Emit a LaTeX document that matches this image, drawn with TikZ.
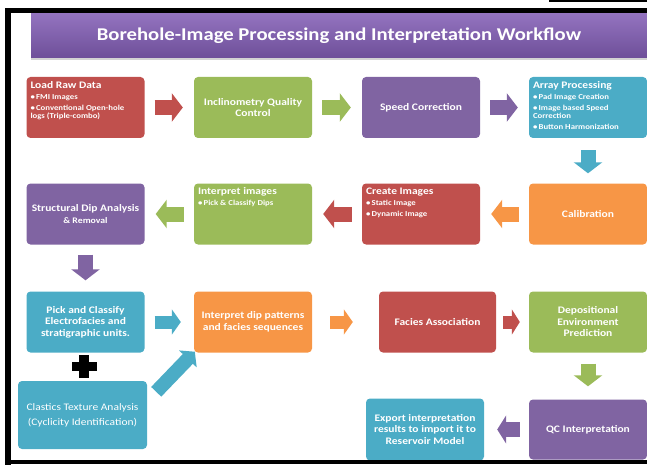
\documentclass[tikz,border=0pt]{standalone}
\usepackage{fontspec}
\setmainfont[FakeStretch=1.15]{Carlito}
\usetikzlibrary{arrows.meta,shadows}

\definecolor{boxred}{HTML}{C0504D}
\definecolor{boxgreen}{HTML}{9BBB59}
\definecolor{boxpurple}{HTML}{8064A2}
\definecolor{boxteal}{HTML}{4BACC6}
\definecolor{boxorange}{HTML}{F79646}
\definecolor{bannertop}{HTML}{9373BF}
\definecolor{bannerbot}{HTML}{6E4F99}

\newcommand{\headed}[2]{%
  \begin{minipage}[t][53pt][t]{110pt}\raggedright
    {\fontsize{10}{11}\selectfont #1}\par\vspace{3pt}
    \fontsize{7.6}{8.4}\selectfont #2
  \end{minipage}}
\newcommand{\bul}[1]{\hangindent=5pt\hangafter=1 \textbullet\,#1\par\vspace{2.5pt}}

\tikzset{
  stage/.style={rounded corners=4pt, text=white, font=\bfseries\fontsize{10}{11.5}\selectfont,
    align=center, inner sep=4pt, minimum width=118pt, minimum height=61pt},
  flow/.style={line width=15pt, -{Triangle[length=11pt,width=28pt]},
    shorten <=10pt, shorten >=11pt},
  smallflow/.style={line width=13pt, -{Triangle[length=9pt,width=25pt]}}
}

\begin{document}
\begin{tikzpicture}[x=1pt, y=-1pt]
    \useasboundingbox (0,0) rectangle (647,465);

    \node[top color=bannertop, bottom color=bannerbot, minimum width=616pt, minimum height=44pt,
          text=white, font=\bfseries\fontsize{18}{20}\selectfont,
          drop shadow={shadow xshift=0pt, shadow yshift=-2pt, opacity=0.35}] (title) at (339,36)
          {Borehole-Image Processing and Interpretation Workflow};

    \node[stage, fill=boxred] (load) at (85.5,107.5)
        {\headed{Load Raw Data}{\bul{FMI Images}\bul{Conventional Open-hole\\logs (Triple-combo)}}};
    \node[stage, fill=boxgreen] (incl) at (253,107.5) {Inclinometry Quality\\Control};
    \node[stage, fill=boxpurple] (speed) at (421,107.5) {Speed Correction};
    \node[stage, fill=boxteal] (array) at (588,107.5)
        {\headed{Array Processing}{\bul{Pad Image Creation}\bul{Image based Speed\\Correction}\bul{Button Harmonization}}};

    \node[stage, fill=boxpurple] (struct) at (85.5,214)
        {Structural Dip Analysis\\{\fontsize{8.5}{10}\selectfont \& Removal}};
    \node[stage, fill=boxgreen] (interp) at (253,214) {\headed{Interpret images}{\bul{Pick \& Classify Dips}}};
    \node[stage, fill=boxred] (create) at (421,214) {\headed{Create Images}{\bul{Static Image}\bul{Dynamic Image}}};
    \node[stage, fill=boxorange] (calib) at (588,214) {Calibration};

    \node[stage, fill=boxteal] (pick) at (85.5,322) {Pick and Classify\\Electrofacies and\\stratigraphic units.};
    \node[stage, fill=boxorange] (dip) at (253,322) {Interpret dip patterns\\and facies sequences};
    \node[stage, fill=boxred, minimum width=117pt] (facies) at (437.5,322) {Facies Association};
    \node[stage, fill=boxgreen] (depos) at (588,322) {Depositional\\Environment\\Prediction};

    \node[stage, fill=boxteal, minimum width=129pt, minimum height=68pt, font=\fontsize{10}{15}\selectfont]
        (clastics) at (82.5,415) {Clastics Texture Analysis\\(Cyclicity Identification)};
    \node[stage, fill=boxteal, minimum height=62pt] (export) at (425,429.5)
        {Export interpretation\\results to import it to\\Reservoir Model};
    \node[stage, fill=boxpurple, minimum height=60pt] (qc) at (588,429.5) {QC Interpretation};

    \draw[flow, boxred] (load) -- (incl);
    \draw[flow, boxgreen] (incl) -- (speed);
    \draw[flow, boxpurple] (speed) -- (array);
    \draw[flow, boxteal, shorten <=12pt, shorten >=10pt] (array) -- (calib);
    \draw[flow, boxorange] (calib) -- (create);
    \draw[flow, boxred] (create) -- (interp);
    \draw[flow, boxgreen] (interp) -- (struct);
    \draw[flow, boxpurple] (struct) -- (pick);
    \draw[smallflow, boxteal, shorten <=10pt, shorten >=13pt] (pick) -- (dip);
    \draw[smallflow, boxorange, shorten <=18pt, shorten >=26pt] (dip) -- (facies);
    \draw[smallflow, boxred, -{Triangle[length=8pt,width=25pt]}, shorten <=7pt, shorten >=9pt] (facies) -- (depos);
    \draw[flow, boxgreen, shorten <=11pt, shorten >=13pt] (depos) -- (qc);
    \draw[flow, boxpurple, -{Triangle[length=9pt,width=28pt]}, shorten <=9pt, shorten >=13pt] (qc) -- (export);
    \draw[smallflow, boxteal, line width=14pt, -{Triangle[length=10pt,width=24pt]}]
        ([shift={(9pt,-11pt)}]clastics.north east) -- ([shift={(1pt,1pt)}]dip.south west);

    \path (pick.south) -- (clastics.north) coordinate[pos=0.5] (plus);
    \fill ([shift={(-12.5pt,-4.5pt)}]plus) rectangle ([shift={(12.5pt,4.5pt)}]plus);
    \fill ([shift={(-5pt,-11.5pt)}]plus) rectangle ([shift={(5pt,11.5pt)}]plus);

    \fill (5,8) rectangle (647,13);
    \fill (5,8) rectangle (11,465);
    \fill (5,460) rectangle (647,464);
    \fill (549,0) rectangle (647,2);
\end{tikzpicture}
\end{document}
